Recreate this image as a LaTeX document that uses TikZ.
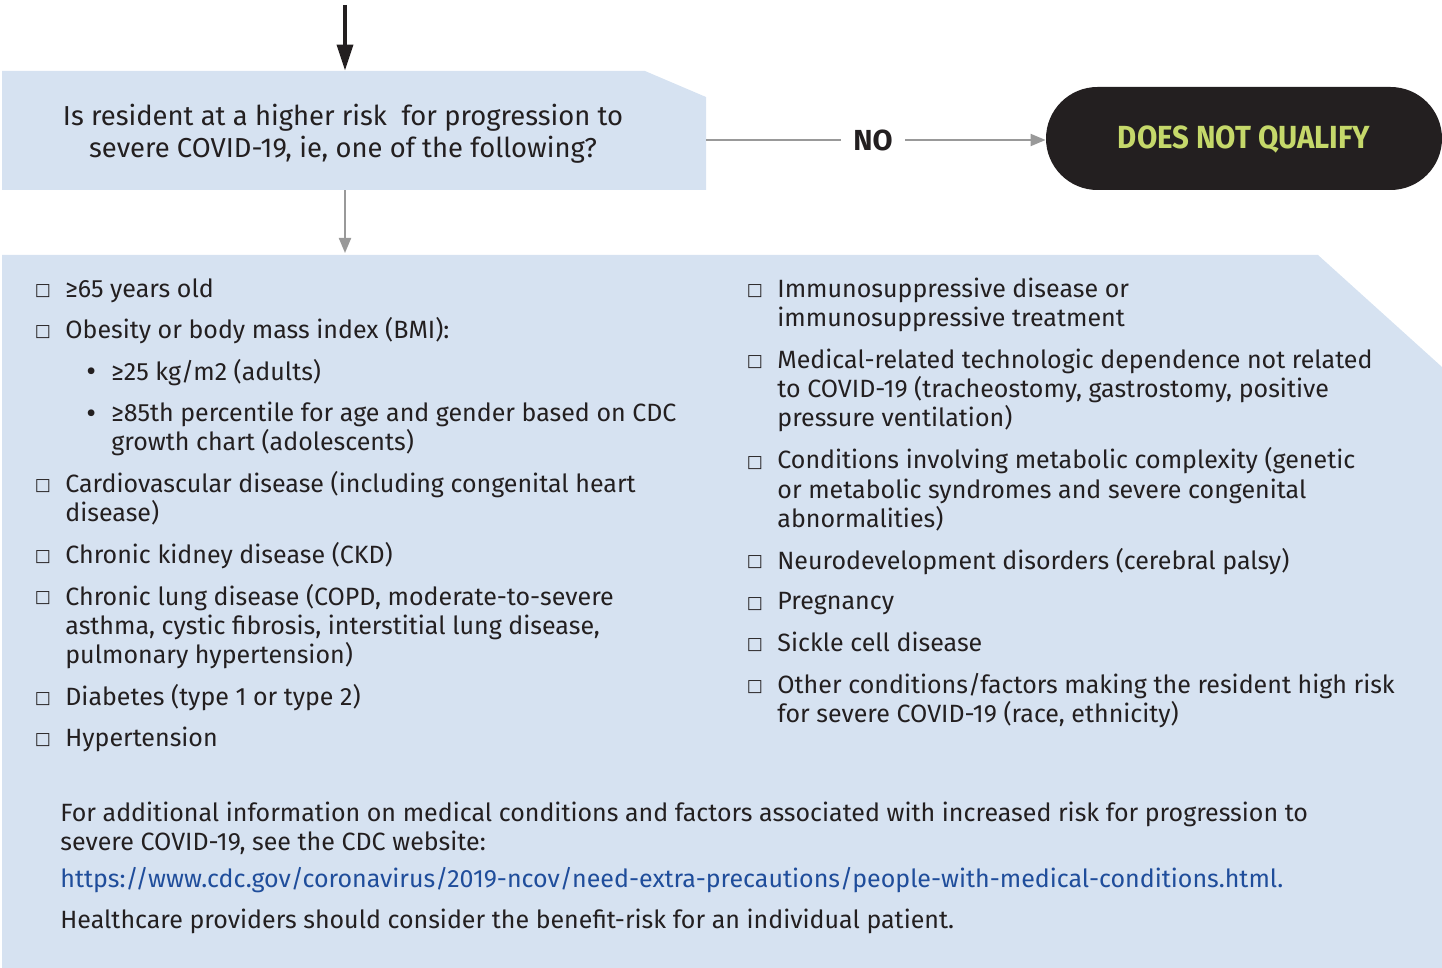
\documentclass[tikz,border=0pt]{standalone}
\usepackage{fontspec}
\usepackage{graphicx}
\setmainfont{Fira Sans}
\newfontfamily\symfont{DejaVu Sans}
\usetikzlibrary{positioning,arrows.meta}
\definecolor{paleblue}{RGB}{214,226,241}
\definecolor{darkbox}{RGB}{35,31,32}
\definecolor{limetext}{RGB}{197,216,106}
\definecolor{linkblue}{RGB}{31,77,155}
\definecolor{arrowgray}{RGB}{153,153,153}
\newcommand{\chk}{{\symfont □}}
\newcommand{\gteq}{≥}

\begin{document}
\begin{tikzpicture}[x=0.5pt,y=-0.5pt,
  txt/.style={anchor=base west,inner sep=0pt,align=left,font=\fontsize{12.5}{14.5}\selectfont,text=darkbox},
  box/.style={anchor=base,inner sep=0pt,font=\fontsize{8.5}{9}\selectfont,text=darkbox},
  grayarrow/.style={arrowgray,line width=1pt,-{Triangle[length=7.5pt,width=6pt]}}]
\useasboundingbox (0,0) rectangle (1442,968);
\fill[paleblue] (2,71)--(645,71)--(706,97)--(706,190)--(2,190)--cycle;
\fill[paleblue] (2,255)--(1318,255)--(1442,367)--(1442,968)--(2,968)--cycle;
\node[minimum width=352pt,minimum height=59.5pt,inner sep=0pt] (qbox) at (354,130.5) {};
\node[align=center,inner sep=0pt,font=\fontsize{13.7}{16}\selectfont,text=darkbox] (qtext) at (343,134) {Is resident at a higher risk\ \ for progression to\\severe COVID-19, ie, one of the following?};
\coordinate (top) at (345,5);
\coordinate (listtop) at (345,253);
\draw[line width=1.75pt,darkbox,-{Triangle[length=13pt,width=8pt]}] (top) -- (top |- qbox.north);
\draw[grayarrow] (top |- qbox.south) -- (listtop);
\node[rectangle,rounded corners=25.75pt,fill=darkbox,minimum width=198pt,minimum height=51.5pt,inner sep=0pt,
  text height=10pt,text depth=0pt,text=limetext,font=\bfseries\fontsize{16}{17}\selectfont] (dnq) at (1244,138.5) {\scalebox{0.92}[1]{DOES NOT QUALIFY}};
\node[inner xsep=6pt,font=\bfseries\fontsize{14.5}{15}\selectfont,text=darkbox] (no) at (873,140) {NO};
\draw[arrowgray,line width=1pt] (qbox.east |- no) -- (no);
\draw[grayarrow] (no) -- (no -| dnq.west);

\node[box] (b1) at (43,296) {\chk};
\node[txt] (i1) at (65,298) {\gteq65 years old};
\node[box] (b2) at (43,337) {\chk};
\node[txt] (i2) at (65,339) {Obesity or body mass index (BMI):};
\node[txt,font=\fontsize{15}{15}\selectfont] (d1) at (86,382) {•};
\node[txt] (s1) at (111,381) {\gteq25 kg/m2 (adults)};
\node[txt,font=\fontsize{15}{15}\selectfont] (d2) at (86,423) {•};
\node[txt] (s2) at (111,451) {\gteq85th percentile for age and gender based on CDC\\growth chart (adolescents)};
\node[box] (b3) at (43,491) {\chk};
\node[txt] (i3) at (65,522) {Cardiovascular disease (including congenital heart\\disease)};
\node[box] (b4) at (43,561) {\chk};
\node[txt] (i4) at (65,563) {Chronic kidney disease (CKD)};
\node[box] (b5) at (43,603) {\chk};
\node[txt] (i5) at (65,663) {Chronic lung disease (COPD, moderate-to-severe\\asthma, cystic fibrosis, interstitial lung disease,\\pulmonary hypertension)};
\node[box] (b6) at (43,703) {\chk};
\node[txt] (i6) at (65,705) {Diabetes (type 1 or type 2)};
\node[box] (b7) at (43,744) {\chk};
\node[txt] (i7) at (65,746) {Hypertension};

\node[box] (r1) at (755,296) {\chk};
\node[txt] (j1) at (777,327) {Immunosuppressive disease or\\immunosuppressive treatment};
\node[box] (r2) at (755,367) {\chk};
\node[txt] (j2) at (777,427) {Medical-related technologic dependence not related\\to COVID-19 (tracheostomy, gastrostomy, positive\\pressure ventilation)};
\node[box] (r3) at (755,467) {\chk};
\node[txt] (j3) at (777,527) {Conditions involving metabolic complexity (genetic\\or metabolic syndromes and severe congenital\\abnormalities)};
\node[box] (r4) at (755,567) {\chk};
\node[txt] (j4) at (777,569) {Neurodevelopment disorders (cerebral palsy)};
\node[box] (r5) at (755,608) {\chk};
\node[txt] (j5) at (777,610) {Pregnancy};
\node[box] (r6) at (755,649) {\chk};
\node[txt] (j6) at (777,651) {Sickle cell disease};
\node[box] (r7) at (755,691) {\chk};
\node[txt] (j7) at (777,722) {Other conditions/factors making the resident high risk\\for severe COVID-19 (race, ethnicity)};

\node[txt] (note) at (60,850) {For additional information on medical conditions and factors associated with increased risk for progression to\\severe COVID-19, see the CDC website:};
\node[txt,text=linkblue] (url) at (60,887) {https://www.cdc.gov/coronavirus/2019-ncov/need-extra-precautions/people-with-medical-conditions.html.};
\node[txt] (advice) at (60,928) {Healthcare providers should consider the benefit-risk for an individual patient.};
\end{tikzpicture}
\end{document}
